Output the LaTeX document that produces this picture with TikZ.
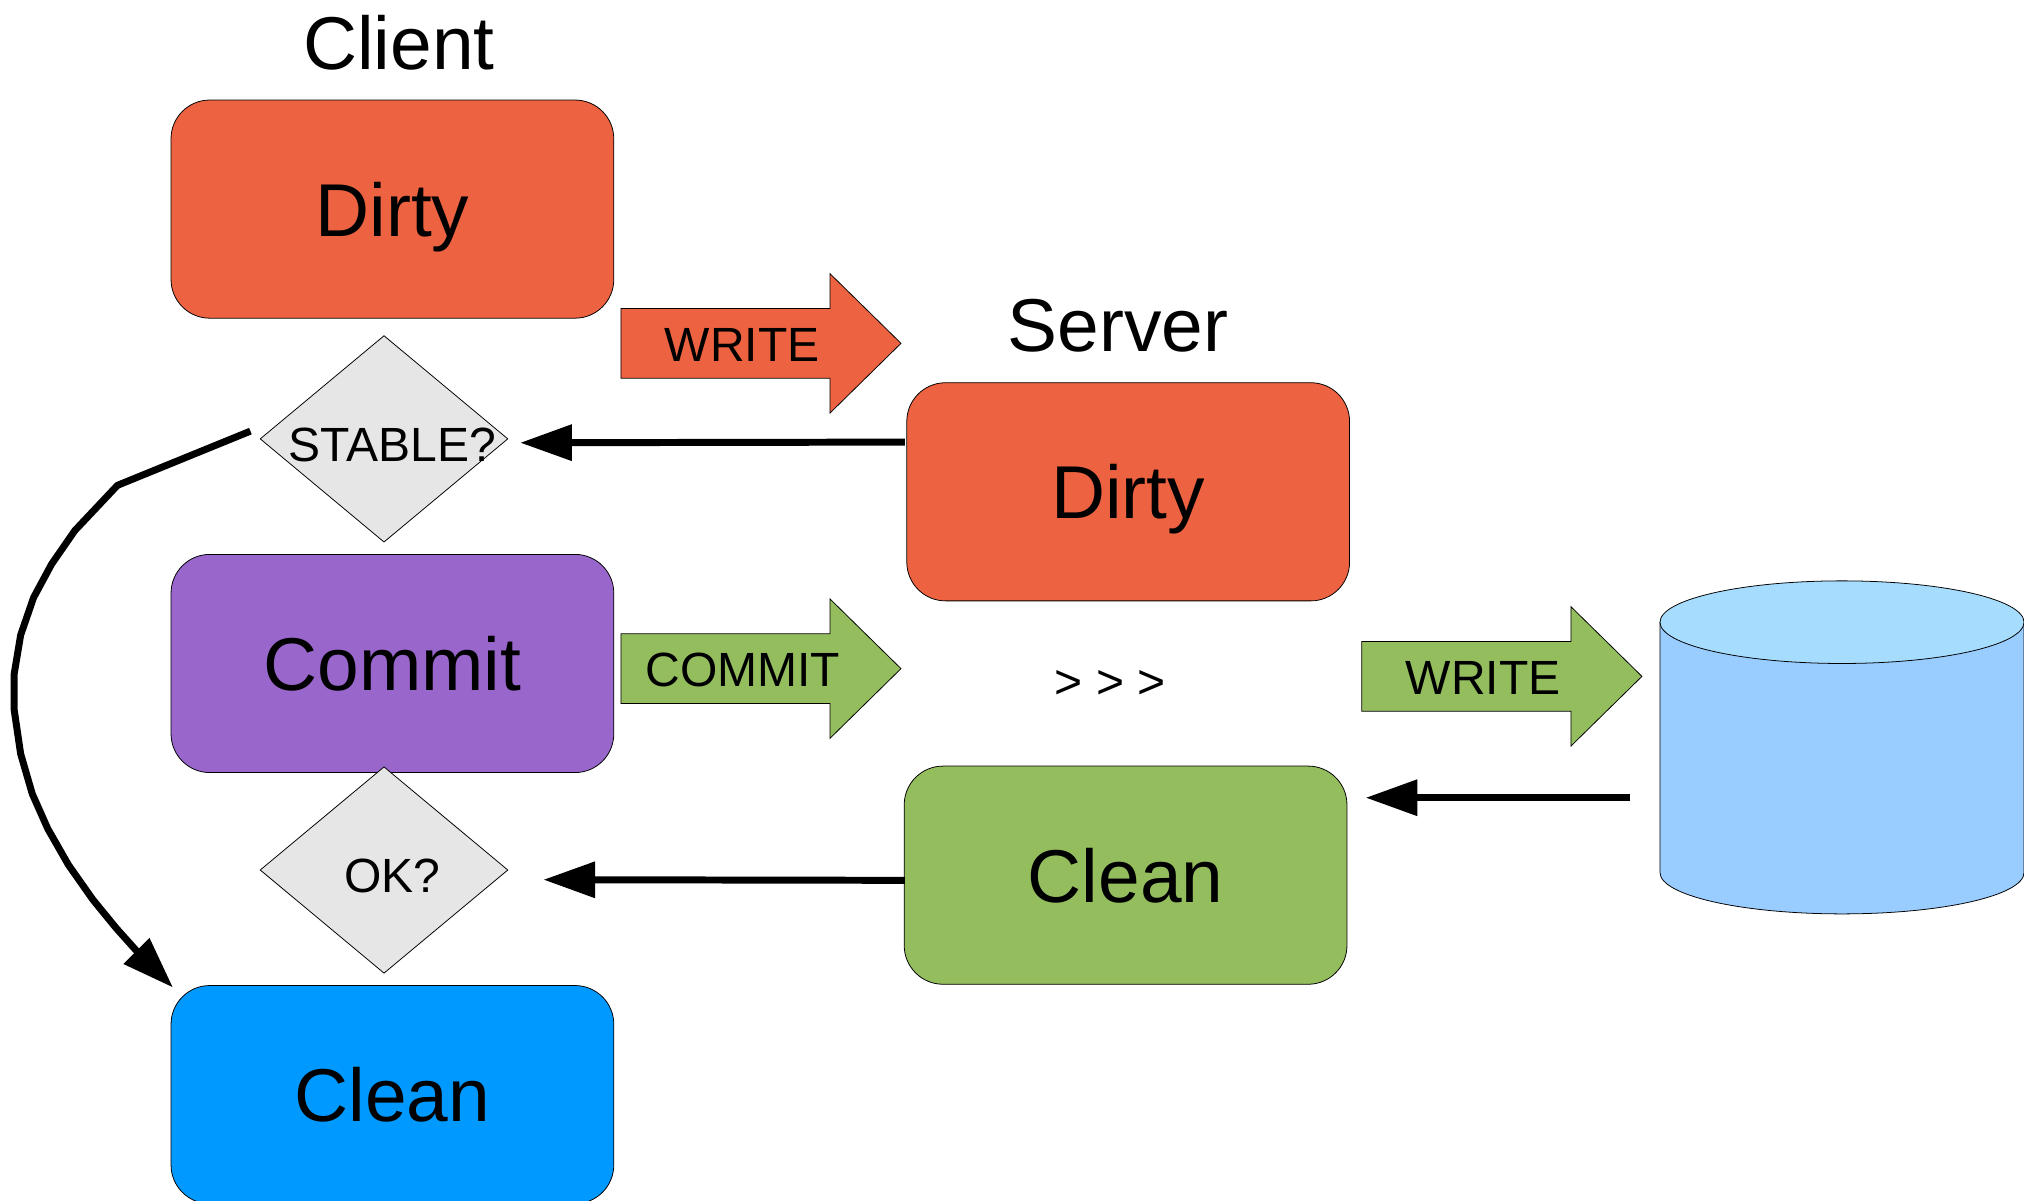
\documentclass[tikz,border=0pt]{standalone}
\usepackage{fontspec}
\setmainfont{Liberation Sans}
\usetikzlibrary{shapes.geometric,arrows.meta}
\tikzset{
  x=0.5pt,y=-0.5pt,
  box/.style={draw=black,line width=0.3pt,rounded corners=15pt,minimum width=171.5pt,minimum height=84.5pt,inner sep=0pt,text height=21pt,text depth=0pt,font=\fontsize{29}{32}\selectfont,text=black},
  title/.style={font=\fontsize{29}{32}\selectfont,inner sep=0pt},
  dia/.style={draw=black,line width=0.3pt,fill=diagray,diamond,aspect=1.2,minimum width=96pt,minimum height=80pt,inner sep=0pt},
  lbl/.style={font=\fontsize{18.6}{22}\selectfont,inner sep=0pt},
  arrowline/.style={line width=2.7pt,draw=black,line join=round,-{Triangle[length=20pt,width=13.5pt]}},
  block/.style={draw=black,line width=0.3pt}
}
\definecolor{dirtyred}{HTML}{ED6240}
\definecolor{commitp}{HTML}{9966CC}
\definecolor{cleang}{HTML}{94BD5E}
\definecolor{cleanb}{HTML}{0099FF}
\definecolor{diagray}{HTML}{E6E6E6}
\definecolor{cylside}{HTML}{99CCFF}
\definecolor{cyltop}{HTML}{A6DDFF}
\begin{document}
\begin{tikzpicture}
\useasboundingbox (0,0) rectangle (1568,930);
\node[title] (tc) at (309,33) {Client};
\node[title] (ts) at (866,252) {Server};
\node[box,fill=dirtyred] (cd) at (304,162) {Dirty};
\node[box,fill=commitp] (cc) at (304,514) {Commit};
\begin{scope}
\clip (0,0) rectangle (1568,930);
\node[box,fill=cleanb] (ccl) at (304,848) {Clean};
\end{scope}
\node[box,fill=dirtyred] (sd) at (874,381) {Dirty};
\node[box,fill=cleang] (scl) at (872,678) {Clean};
\node[dia] (d1) at (297.5,340) {};
\node[lbl] (d1t) at (304,345) {STABLE?};
\node[dia] (d2) at (297.5,674) {};
\node[lbl] (d2t) at (304,679) {OK?};
\draw[block,fill=dirtyred] (481,239)--(643,239)--(643,212)--(698,266)--(643,320)--(643,293)--(481,293)--cycle;
\node[lbl] (w1) at (575,267) {WRITE};
\draw[block,fill=cleang] (481,491)--(643,491)--(643,464)--(698,518)--(643,572)--(643,545)--(481,545)--cycle;
\node[lbl] (w2) at (575.5,519) {COMMIT};
\draw[block,fill=cleang] (1055,497)--(1217,497)--(1217,470)--(1272,524)--(1217,578)--(1217,551)--(1055,551)--cycle;
\node[lbl] (w3) at (1149,525) {WRITE};
\node[lbl] (gt) at (860,530) {> > >};
\draw[block,fill=cylside] (1286,482)--(1286,676) arc[start angle=180,end angle=0,x radius=141,y radius=32]--(1568,482)--cycle;
\draw[block,fill=cyltop] (1427,482) ellipse[x radius=141,y radius=32];
\coordinate (a1) at (701,342.5);
\coordinate (a1e) at (403,343);
\draw[arrowline] (a1)--(a1e);
\coordinate (a2) at (701,682);
\coordinate (a2e) at (421,681.5);
\draw[arrowline] (a2)--(a2e);
\coordinate (a3) at (1263,618);
\coordinate (a3e) at (1058,618);
\draw[arrowline] (a3)--(a3e);
\coordinate (b0) at (194,334);
\coordinate (b9) at (134,765);
\draw[arrowline] (b0)--(91,376)--(58,411)--(40,437)--(26,463)--(16,492)--(11,522)--(11,550)--(16,584)--(25,615)--(37,642)--(53,670)--(72,697)--(90,719)--(107,738)--(b9);
\end{tikzpicture}
\end{document}
